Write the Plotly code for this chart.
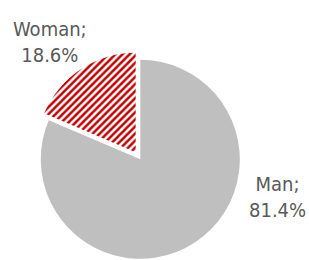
import plotly.graph_objects as go

# Data
labels = ["Man", "Woman"]
values = [81.4, 18.6]
label_texts = [f"{l};<br>{v}%" for l, v in zip(labels, values)]

GRAY = "#BFBFBF"
RED = "#C00000"
TEXT = "#595959"
CLEAR = "rgba(0,0,0,0)"
FONT = "DejaVu Sans Condensed, DejaVu Sans, sans-serif"

W, H = 309, 260

def dom(cx, cy, r):
    return dict(x=[(cx - r) / W, (cx + r) / W], y=[1 - (cy + r) / H, 1 - (cy - r) / H])

fig = go.Figure()

# Man slice (base pie)
fig.add_trace(go.Pie(
    labels=labels, values=values, sort=False, direction="clockwise", rotation=0,
    marker=dict(colors=[GRAY, CLEAR], line=dict(width=0)),
    textinfo="none", hoverinfo="skip", showlegend=False,
    domain=dom(140.3, 159.3, 99.5),
))

# Woman slice (exploded, hatched)
fig.add_trace(go.Pie(
    labels=labels, values=values, sort=False, direction="clockwise", rotation=0,
    marker=dict(colors=[CLEAR, "white"], line=dict(width=0),
                pattern=dict(shape=["", "/"], fgcolor=[CLEAR, RED], bgcolor=[CLEAR, "white"],
                             size=5, solidity=0.5, fillmode="replace")),
    textinfo="none", hoverinfo="skip", showlegend=False,
    domain=dom(135.7, 152.3, 99.5),
))

fig.add_annotation(text=label_texts[1], x=50 / W, y=1 - 42 / H, xref="paper", yref="paper",
                   showarrow=False, xanchor="center", yanchor="middle",
                   font=dict(family=FONT, size=20, color=TEXT))
fig.add_annotation(text=label_texts[0], x=277.5 / W, y=1 - 197 / H, xref="paper", yref="paper",
                   showarrow=False, xanchor="center", yanchor="middle",
                   font=dict(family=FONT, size=20, color=TEXT))

fig.update_layout(width=W, height=H, margin=dict(l=0, r=0, t=0, b=0),
                  paper_bgcolor="white", plot_bgcolor="white")

fig.write_html("out.html", config={"displayModeBar": False},
               post_script="document.body.style.margin='0';document.body.style.overflow='hidden';")
